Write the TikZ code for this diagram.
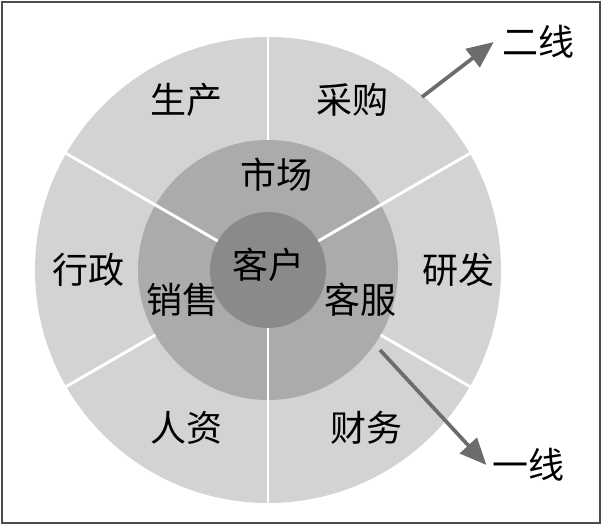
\documentclass[tikz,border=0pt]{standalone}
\usepackage{fontspec}
\setmainfont{Noto Sans CJK SC}
\usetikzlibrary{arrows.meta,calc}
\definecolor{ringout}{HTML}{D3D3D3}
\definecolor{ringmid}{HTML}{ABABAB}
\definecolor{ringin}{HTML}{8A8A8A}
\tikzset{
  lbl/.style = {font=\fontsize{27}{27}\selectfont, inner sep=0pt},
  cut/.style = {white, line width=2.2pt},
  flow/.style = {draw=gray!85!black, line width=2.8pt, -{Triangle[length=20pt,width=17pt]}}
}
\begin{document}
\begin{tikzpicture}[x=0.75pt,y=-0.75pt]
	\def \R{233}
	\def \M{130}
	\def \r{58}
	\useasboundingbox (0,0) rectangle (602,525);
	\draw[black!70, line width=0.8pt] (2,2) rectangle (600,523);
	\coordinate (O) at (268,270);
	
	% Rings
	\fill[ringout] (O) circle (\R);
	\fill[ringmid] (O) circle (\M);
	\fill[ringin] (O) circle (\r);
	
	% Cuts through both rings
	\foreach \a in {210,330,90}
		\draw[cut] ($(O)+(\a:\r)$) -- ($(O)+(\a:\R)$);
	% Cuts in the outer ring only
	\foreach \a in {270,150,30}
		\draw[cut] ($(O)+(\a:\M)$) -- ($(O)+(\a:\R)$);
	
	% Labels
	\node[lbl] (kh) at (268,265) {客户};
	\node[lbl] (sc) at (276,175) {市场};
	\node[lbl] (xs) at (182,300) {销售};
	\node[lbl] (kf) at (360,300) {客服};
	\node[lbl] (sx) at (186,100) {生产};
	\node[lbl] (cg) at (352,100) {采购};
	\node[lbl] (xz) at (88,270) {行政};
	\node[lbl] (yf) at (458,270) {研发};
	\node[lbl] (rz) at (186,428) {人资};
	\node[lbl] (cw) at (366,428) {财务};
	\node[lbl] (ex) at (538,42) {二线};
	\node[lbl] (yx) at (528,465) {一线};
	
	% Arrows
	\coordinate (a2) at (422,97);
	\coordinate (a1) at (380,350);
	\draw[flow] (a2) -- ([xshift=-6pt]ex.west);
	\draw[flow] (a1) -- ([xshift=-4pt]yx.west);
\end{tikzpicture}
\end{document}
